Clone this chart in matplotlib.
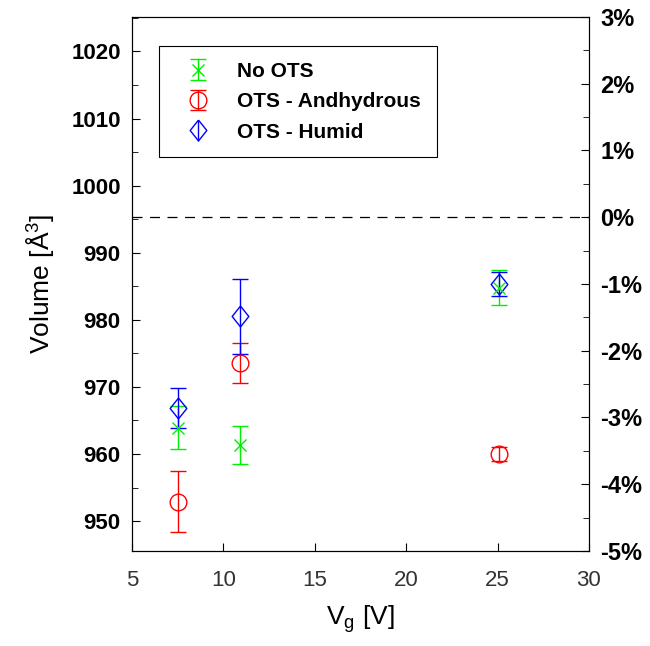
import matplotlib
matplotlib.use('Agg')
import matplotlib.pyplot as plt
from matplotlib.ticker import MultipleLocator, FuncFormatter

plt.rcParams['font.family'] = ['Liberation Sans', 'DejaVu Sans']

## Data ##

#Gate voltage [V]
vg = [7.5, 10.9, 25.1]

#Volume [A^3] and error bars
noOTS = [963.9, 961.3, 984.8]
noOTSErr = [3.2, 2.8, 2.6]

otsAnhydrous = [952.9, 973.6, 960.0]
otsAnhydrousErr = [4.6, 3.0, 1.0]

otsHumid = [966.9, 980.5, 985.3]
otsHumidErr = [3.0, 5.6, 1.8]

labels = ['No OTS', 'OTS - Andhydrous', 'OTS - Humid']

#Reference volume for the percent axis
refVolume = 995.3

## Figure ##

fig = plt.figure(figsize=(6.5, 6.46), dpi=100)
ax = fig.add_axes([0.203, 0.147, 0.703, 0.827])

diamond = [(0, 1), (0.8, 0), (0, -1), (-0.8, 0), (0, 1)]

ax.errorbar(vg, noOTS, yerr=noOTSErr, fmt='x', color='#00ee00', ms=9,
            mew=1, elinewidth=1, capsize=6, capthick=1, label=labels[0])
ax.errorbar(vg, otsAnhydrous, yerr=otsAnhydrousErr, fmt='o', color='red',
            mfc='none', ms=12, mew=1, elinewidth=1, capsize=6, capthick=1,
            label=labels[1])
ax.errorbar(vg, otsHumid, yerr=otsHumidErr, fmt='none', color='blue',
            elinewidth=1, capsize=6, capthick=1)
ax.plot(vg, otsHumid, ls='none', marker=diamond, color='blue', mfc='none',
        ms=15, mew=1)
#Legend handle for humid combines bars and diamond
hHumid = ax.errorbar([], [], yerr=[], fmt='none', color='blue',
                     elinewidth=1, capsize=6, capthick=1)
hDiamond, = ax.plot([], [], ls='none', marker=diamond, color='blue',
                    mfc='none', ms=15, mew=1)

ax.axhline(refVolume, color='black', ls=(0, (8, 6)), lw=0.9)

ax.set_xlim(5, 30)
ax.set_ylim(refVolume * 0.95, refVolume * 1.03)
ax.xaxis.set_major_locator(MultipleLocator(5))
ax.yaxis.set_major_locator(MultipleLocator(10))
ax.yaxis.set_minor_locator(MultipleLocator(5))
ax.tick_params(axis='both', which='both', direction='in')
ax.tick_params(axis='x', which='major', length=6, labelsize=16,
               labelcolor='#333333', pad=14)
ax.tick_params(axis='y', which='major', length=6, labelsize=16, pad=8)
ax.tick_params(axis='y', which='minor', length=4)
for t in ax.get_yticklabels():
    t.set_fontweight('bold')

ax.set_xlabel(r'V$_\mathregular{g}$ [V]', fontsize=19, labelpad=8)
ax.set_ylabel('Volume [Å$^\\mathregular{3}$]', fontsize=19, labelpad=10)

#Right axis in percent
ax2 = ax.twinx()
ax2.set_ylim(-5, 3)
ax2.yaxis.set_major_locator(MultipleLocator(1))
ax2.yaxis.set_minor_locator(MultipleLocator(0.5))
ax2.yaxis.set_major_formatter(FuncFormatter(lambda v, p: '%d%%' % round(v)))
ax2.tick_params(axis='y', which='both', direction='in')
ax2.tick_params(axis='y', which='major', length=6, labelsize=17, pad=8)
ax2.tick_params(axis='y', which='minor', length=4)
for t in ax2.get_yticklabels():
    t.set_fontweight('bold')

handles, _ = ax.get_legend_handles_labels()
leg = ax.legend(handles[:2] + [(hHumid, hDiamond)], labels,
                loc='upper left', bbox_to_anchor=(0.06, 0.945),
                prop={'weight': 'bold', 'size': 15}, fancybox=False,
                edgecolor='black', framealpha=1, borderpad=0.75,
                handlelength=2.2, labelspacing=0.55, borderaxespad=0)
leg.get_frame().set_linewidth(0.8)

fig.savefig('out.png', dpi=100)
